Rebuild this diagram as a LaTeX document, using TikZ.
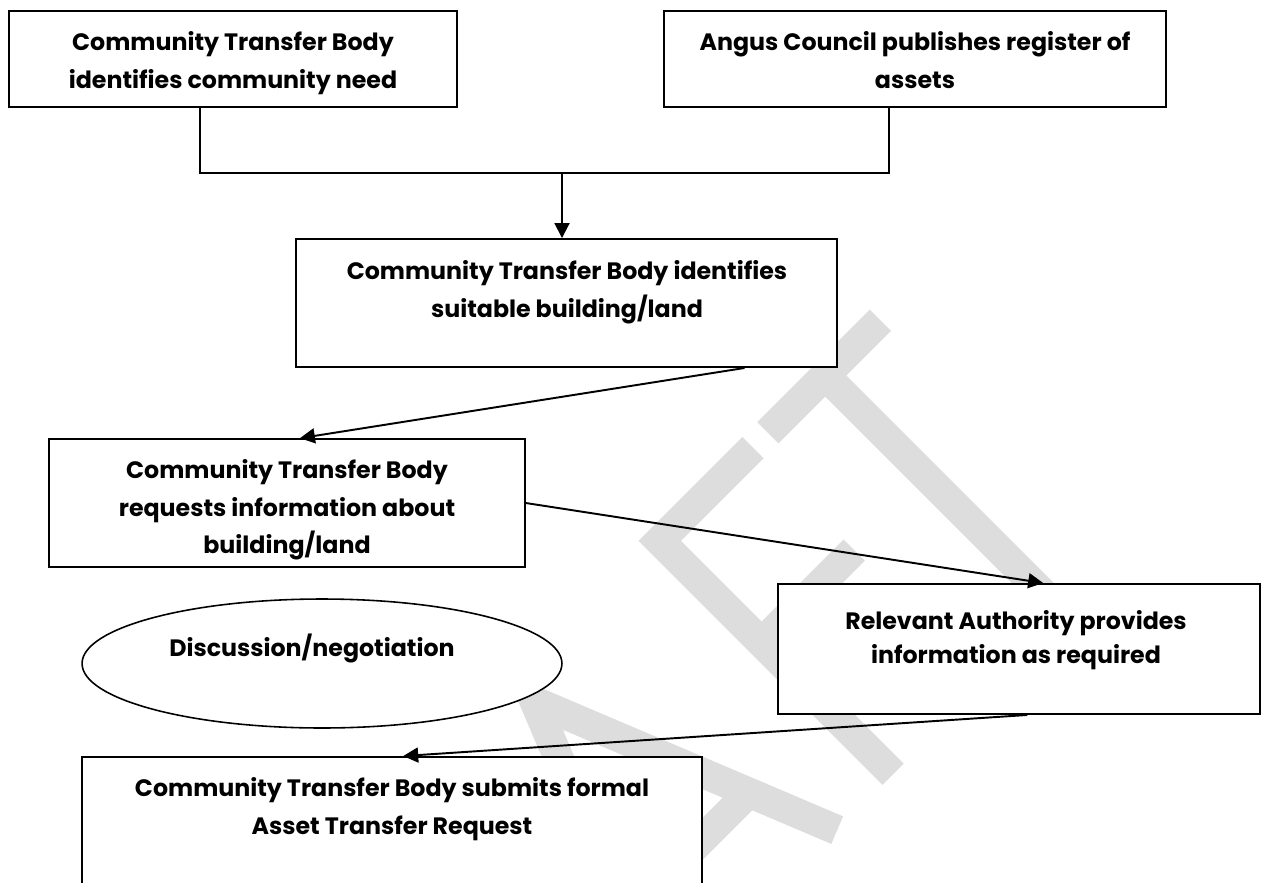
\documentclass[tikz,border=0pt]{standalone}
\usepackage{fontspec}
\setmainfont{Poppins}
\usetikzlibrary{arrows.meta,shapes.geometric,fit,calc}
\definecolor{wm}{RGB}{221,221,221}
\newcommand{\txtfont}{\bfseries\fontsize{13.5}{21.5}\selectfont}
\begin{document}
\begin{tikzpicture}[x=0.02cm,y=-0.02cm,
  box/.style={draw=black, fill=white, line width=1.1pt, inner sep=0pt},
  oval/.style={ellipse, draw=black, fill=white, line width=0.9pt, inner sep=0pt, minimum width=9.6cm, minimum height=2.58cm},
  txt/.style={font=\txtfont, align=center, inner sep=0pt, anchor=north},
  conn/.style={draw=black, line width=1.1pt},
  arr/.style={conn, -{Triangle[length=0.3cm,width=0.3cm]}},
  wmline/.style={draw=wm, line width=0.6cm, line join=miter, line cap=butt}]
\useasboundingbox (0,0) rectangle (1263,882);
\clip (0,0) rectangle (1263,882);
\fill[white] (0,0) rectangle (1263,882);
% watermark
\begin{scope}[x={(0.01414cm,0.01414cm)}, y={(-0.01414cm,0.01414cm)}]
  % A
  \draw[wmline] (-241,-1179) -- (-118,-874) -- (5,-1179);
  \draw[wmline] (-205,-1090) -- (-31,-1090);
  % F
  \draw[wmline] (216,-849) -- (84,-849) -- (84,-1179);
  \draw[wmline] (84,-993) -- (215,-993);
  % T
  \draw[wmline] (237,-849) -- (396,-849);
  \draw[wmline] (318,-849) -- (318,-1179);
\end{scope}
% boxes
\node[box, fit={(9,11) (457,107)}] (b1) {};
\node[box, fit={(664,11) (1166,107)}] (b2) {};
\node[box, fit={(296,239) (837,367)}] (b3) {};
\node[box, line width=0.9pt, fit={(49,439) (525,567)}] (b4) {};
\node[oval] (e) at (322,663.5) {};
\node[box, fit={(778,584) (1260,714)}] (b6) {};
\node[box, fit={(82,757) (702,950)}] (b5) {};
% texts
\node[txt] (t1) at (233,31) {Community Transfer Body\\identifies community need};
\node[txt] (t2) at (915,31) {Angus Council publishes register of\\assets};
\node[txt] (t3) at (567,260) {Community Transfer Body identifies\\suitable building/land};
\node[txt] (t4) at (287,459) {Community Transfer Body\\requests information about\\building/land};
\node[txt] (te) at (312,634) {Discussion/negotiation};
\node[txt, font=\bfseries\fontsize{13.5}{19.5}\selectfont] (t6) at (1016,610) {Relevant Authority provides\\information as required};
\node[txt] (t5) at (392,777) {Community Transfer Body submits formal\\Asset Transfer Request};
% connectors
\coordinate (j1) at (200,173);
\coordinate (j2) at (889,173);
\coordinate (jm) at (562,173);
\draw[conn] (b1.south -| j1) |- (j2) -- (b2.south -| j2);
\draw[arr] (jm) -- (b3.north -| jm);
\draw[arr] ($(b3.south west)!0.828!(b3.south east)$) -- ($(b4.north west)!0.527!(b4.north east)$);
\draw[arr] (b4.east) -- ($(b6.north west)!0.55!(b6.north east)$);
\draw[arr] ($(b6.south west)!0.517!(b6.south east)$) -- ($(b5.north west)!0.518!(b5.north east)$);
\end{tikzpicture}
\end{document}
